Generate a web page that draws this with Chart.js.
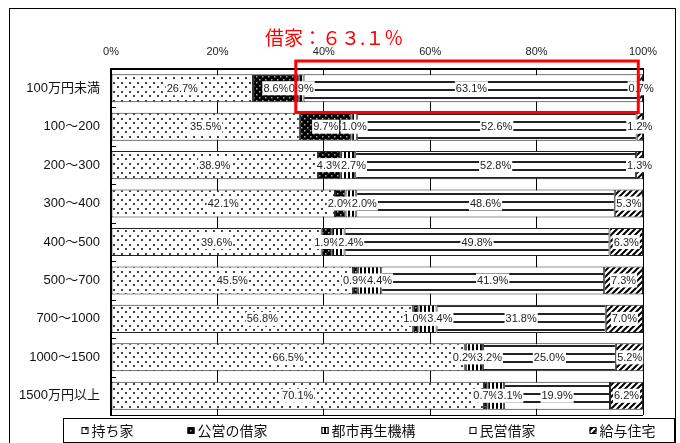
<!DOCTYPE html>
<html>
<head>
<meta charset="utf-8">
<script src="https://cdn.jsdelivr.net/npm/chart.js@4.4.1/dist/chart.umd.min.js"></script>
<style>
    html, body { margin: 0; padding: 0; background: #fff; }
    #contenedor { width: 680px; height: 443px; }
</style>
</head>
<body>
<div id="contenedor"><canvas id="grafico1" width="680" height="443"></canvas></div>
<script>
var categorias = ['100万円未満', '100～200', '200～300', '300～400', '400～500', '500～700', '700～1000', '1000～1500', '1500万円以上'];
var series = ['持ち家', '公営の借家', '都市再生機構', '民営借家', '給与住宅'];
var mochiie = [26.7, 35.5, 38.9, 42.1, 39.6, 45.5, 56.8, 66.5, 70.1];
var koei = [8.6, 9.7, 4.3, 2.0, 1.9, 0.9, 1.0, 0.2, 0.7];
var toshiSaisei = [0.9, 1.0, 2.7, 2.0, 2.4, 4.4, 3.4, 3.2, 3.1];
var minei = [63.1, 52.6, 52.8, 48.6, 49.8, 41.9, 31.8, 25.0, 19.9];
var kyuyo = [0.7, 1.2, 1.3, 5.3, 6.3, 7.3, 7.0, 5.2, 6.2];
var ticksX = [0, 20, 40, 60, 80, 100];
var nota = '借家：６３.１％';

var fuente = '"Liberation Sans", Arial, "Noto Sans CJK JP", sans-serif';
var fuenteJp = '"Noto Sans CJK JP", sans-serif';

function crearPatron(tipo) {
    var c = document.createElement('canvas');
    var g;
    if (tipo === 'puntos') {
        c.width = 8; c.height = 9;
        g = c.getContext('2d');
        g.fillStyle = '#fff'; g.fillRect(0, 0, 8, 9);
        g.fillStyle = '#444';
        g.fillRect(1, 1, 2, 2);
        g.fillRect(5, 5, 2, 2);
    } else if (tipo === 'negro') {
        c.width = 6; c.height = 6;
        g = c.getContext('2d');
        g.fillStyle = '#000'; g.fillRect(0, 0, 6, 6);
        g.fillStyle = '#aaa';
        g.fillRect(1, 1, 1.5, 1.5);
        g.fillRect(4, 4, 1.5, 1.5);
    } else if (tipo === 'vertical') {
        c.width = 4; c.height = 4;
        g = c.getContext('2d');
        g.fillStyle = '#fff'; g.fillRect(0, 0, 4, 4);
        g.fillStyle = '#000'; g.fillRect(0, 0, 2, 4);
    } else if (tipo === 'horizontal') {
        c.width = 4; c.height = 8;
        g = c.getContext('2d');
        g.fillStyle = '#fff'; g.fillRect(0, 0, 4, 8);
        g.fillStyle = '#222'; g.fillRect(0, 1, 4, 2);
    } else {
        c.width = 6; c.height = 6;
        g = c.getContext('2d');
        g.fillStyle = '#fff'; g.fillRect(0, 0, 6, 6);
        g.strokeStyle = '#000'; g.lineWidth = 2;
        g.beginPath();
        g.moveTo(0, 6); g.lineTo(6, 0);
        g.moveTo(-1, 1); g.lineTo(1, -1);
        g.moveTo(5, 7); g.lineTo(7, 5);
        g.stroke();
    }
    return g.createPattern(c, 'repeat');
}

var patrones = [crearPatron('puntos'), crearPatron('negro'), crearPatron('vertical'), crearPatron('horizontal'), crearPatron('diagonal')];
var valores = [mochiie, koei, toshiSaisei, minei, kyuyo];

// etiquetas de porcentaje con fondo blanco
var etiquetasPlugin = {
    id: 'etiquetas',
    afterDatasetsDraw: function (chart) {
        var ctx = chart.ctx;
        ctx.save();
        ctx.font = '11px ' + fuente;
        ctx.textAlign = 'center';
        ctx.textBaseline = 'middle';
        for (var i = 0; i < categorias.length; i++) {
            var prevRight = -1000;
            chart.data.datasets.forEach(function (ds, d) {
                var bar = chart.getDatasetMeta(d).data[i];
                var texto = ds.data[i].toFixed(1) + '%';
                var w = ctx.measureText(texto).width + 2;
                var left = (bar.x + bar.base) / 2 - w / 2;
                if (left < prevRight - 3) { left = prevRight - 3; }
                ctx.fillStyle = '#fff';
                ctx.fillRect(left, bar.y - 7, w, 14);
                ctx.fillStyle = '#222';
                ctx.fillText(texto, left + w / 2, bar.y + 0.5);
                prevRight = left + w;
            });
        }
        ctx.restore();
    }
};

// marco, leyenda y nota en rojo
var decoracionPlugin = {
    id: 'decoracion',
    afterDraw: function (chart) {
        var ctx = chart.ctx;
        var area = chart.chartArea;
        var sx = chart.scales.x;
        var sy = chart.scales.y;
        ctx.save();
        ctx.strokeStyle = '#000';
        ctx.lineWidth = 1;
        ctx.strokeRect(9.5, 8.5, 666, 450);

        // linea inferior y marcas del eje y
        ctx.beginPath();
        ctx.moveTo(area.left, area.bottom + 0.5);
        ctx.lineTo(area.right, area.bottom + 0.5);
        for (var i = 1; i < categorias.length; i++) {
            var yb = Math.round((sy.getPixelForValue(i - 1) + sy.getPixelForValue(i)) / 2) + 0.5;
            ctx.moveTo(area.left, yb);
            ctx.lineTo(area.left + 5, yb);
        }
        ctx.stroke();

        // leyenda
        var lx = 63, ly = 418, lw = 611, lh = 24;
        ctx.fillStyle = '#fff';
        ctx.fillRect(lx, ly, lw, lh);
        ctx.strokeRect(lx + 0.5, ly + 0.5, lw, lh);
        ctx.font = '14px ' + fuenteJp;
        ctx.textBaseline = 'middle';
        ctx.textAlign = 'left';
        var gap = 54;
        var anchos = series.map(function (s) { return 10 + ctx.measureText(s).width; });
        var total = anchos.reduce(function (a, b) { return a + b; }, 0) + gap * (series.length - 1);
        var x = lx + (lw - total) / 2;
        var cy = ly + lh / 2 + 1;
        series.forEach(function (s, k) {
            ctx.fillStyle = patrones[k];
            ctx.fillRect(x, cy - 4, 7, 7);
            ctx.strokeStyle = '#000';
            ctx.strokeRect(x + 0.5, cy - 3.5, 6, 6);
            ctx.fillStyle = '#111';
            ctx.fillText(s, x + 10, cy);
            x += anchos[k] + gap;
        });

        // recuadro rojo sobre el primer renglon
        var x0 = sx.getPixelForValue(mochiie[0] + koei[0]) - 3;
        var x1 = sx.getPixelForValue(100 - kyuyo[0]) - 1;
        var half = (sy.getPixelForValue(1) - sy.getPixelForValue(0)) / 2;
        var y0 = area.top - 8;
        var y1 = sy.getPixelForValue(0) + half + 5;
        ctx.strokeStyle = '#ff0000';
        ctx.lineWidth = 3;
        ctx.strokeRect(x0, y0, x1 - x0, y1 - y0);
        ctx.fillStyle = '#ff0000';
        ctx.font = '19px ' + fuenteJp;
        ctx.fillText(nota, 265, 38);
        ctx.restore();
    }
};

function cargarGrafico() {
    var ctx = document.getElementById('grafico1').getContext('2d');
    var datasets = series.map(function (s, k) {
        return {
            label: s,
            data: valores[k],
            backgroundColor: patrones[k],
            borderColor: '#222',
            borderWidth: 1,
            borderSkipped: false,
            barPercentage: 0.73,
            categoryPercentage: 1
        };
    });
    new Chart(ctx, {
        type: 'bar',
        data: { labels: categorias, datasets: datasets },
        options: {
            indexAxis: 'y',
            responsive: false,
            animation: false,
            devicePixelRatio: 1,
            layout: { padding: { left: 0, right: 37, top: 0, bottom: 28 } },
            plugins: {
                legend: { display: false },
                tooltip: { enabled: false }
            },
            scales: {
                x: {
                    position: 'top',
                    stacked: true,
                    min: 0,
                    max: 100,
                    afterBuildTicks: function (scale) {
                        scale.ticks = ticksX.map(function (v) { return { value: v }; });
                    },
                    afterFit: function (scale) { scale.height = 69; },
                    ticks: {
                        callback: function (v) { return v + '%'; },
                        font: { size: 11, family: fuente },
                        color: '#222',
                        padding: 10,
                        maxRotation: 0
                    },
                    grid: { color: '#000', lineWidth: 1, drawTicks: false },
                    border: { display: true, color: '#000', width: 2 }
                },
                y: {
                    stacked: true,
                    afterFit: function (scale) { scale.width = 111; },
                    ticks: {
                        font: { size: 13, family: fuente },
                        color: '#111',
                        padding: 11
                    },
                    grid: { display: false, drawTicks: false },
                    border: { display: true, color: '#000', width: 2 }
                }
            }
        },
        plugins: [etiquetasPlugin, decoracionPlugin]
    });
}

cargarGrafico();
</script>
</body>
</html>
